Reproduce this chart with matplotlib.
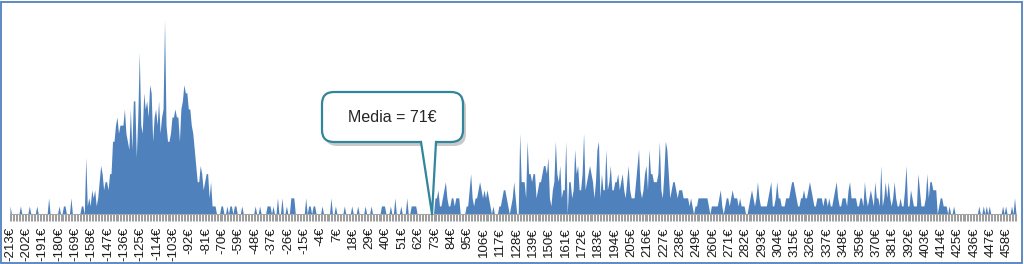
import matplotlib
matplotlib.use("Agg")
import matplotlib.pyplot as plt
from matplotlib.patches import FancyBboxPatch, Polygon, Rectangle
from matplotlib.lines import Line2D
from matplotlib.transforms import IdentityTransform

plt.rcParams["font.family"] = ["Liberation Sans Narrow", "Liberation Sans", "DejaVu Sans"]

# conteggi per ogni euro, da -213 a 464 (righe da 11 valori = un'etichetta)
counts_left = [
    1, 0, 0, 0, 0, 0, 0, 1, 0, 0, 0,
    0, 0, 1, 0, 0, 0, 0, 1, 0, 0, 0,
    0, 0, 0, 0, 2, 0, 0, 0, 0, 0, 0,
    1, 0, 0, 1, 1, 0, 0, 0, 2, 0, 0,
    0, 0, 0, 0, 1, 1, 0, 7, 1, 2, 1,
    3, 2, 3, 1, 2, 4, 6, 5, 3, 4, 4,
    3, 5, 5, 9, 9, 11, 12, 10, 11, 11, 11,
    13, 10, 9, 8, 13, 8, 14, 14, 7, 12, 20,
    11, 10, 15, 13, 14, 12, 16, 15, 9, 12, 13,
    11, 14, 10, 12, 13, 24, 11, 9, 9, 10, 12,
    12, 13, 12, 12, 9, 13, 14, 16, 15, 15, 13,
    13, 11, 10, 8, 6, 4, 4, 6, 5, 3, 4,
    5, 5, 2, 4, 1, 1, 1, 0, 0, 0, 1,
]
counts_mid = [
    1, 0, 0, 1, 0, 1, 1, 0, 1, 1, 0,
    0, 0, 1, 0, 0, 0, 0, 0, 0, 0, 0,
    1, 0, 0, 1, 0, 0, 0, 0, 1, 1, 1,
    0, 1, 0, 0, 2, 0, 0, 2, 0, 0, 1,
    0, 0, 2, 2, 2, 0, 0, 0, 0, 0, 0,
    0, 2, 0, 1, 1, 0, 1, 1, 0, 0, 0,
    0, 1, 0, 0, 0, 0, 0, 2, 0, 0, 1,
    0, 0, 0, 0, 0, 1, 0, 0, 0, 0, 1,
    0, 0, 0, 1, 0, 0, 0, 0, 1, 0, 0,
    0, 1, 0, 0, 0, 0, 0, 0, 1, 1, 1,
    0, 0, 0, 1, 0, 0, 2, 0, 0, 0, 1,
    0, 0, 0, 2, 0, 0, 1, 1, 1, 1, 0,
    0, 0, 0, 0, 0, 0, 0, 0, 0, 0, 0,
]
counts_right = [
    2, 2, 3, 1, 1, 2, 3, 4, 2, 1, 1,
    2, 2, 1, 2, 2, 2, 0, 0, 0, 0, 1,
    1, 3, 5, 2, 1, 2, 2, 3, 4, 3, 2,
    3, 2, 3, 2, 1, 0, 1, 0, 0, 0, 1,
    1, 2, 3, 3, 2, 1, 0, 1, 2, 4, 2,
    0, 0, 10, 4, 4, 4, 2, 9, 5, 5, 4,
    5, 5, 2, 3, 4, 4, 5, 6, 6, 5, 7,
    2, 1, 3, 4, 9, 5, 4, 6, 2, 3, 3,
    9, 0, 4, 4, 2, 3, 8, 5, 6, 3, 3,
    5, 10, 3, 4, 5, 6, 5, 4, 2, 4, 8,
    9, 2, 5, 3, 3, 8, 3, 4, 6, 3, 3,
    4, 4, 5, 3, 4, 5, 3, 2, 4, 6, 3,
    2, 2, 2, 4, 6, 8, 3, 2, 3, 5, 6,
    3, 8, 5, 5, 4, 4, 4, 5, 9, 3, 2,
    5, 9, 8, 5, 2, 3, 4, 4, 3, 2, 3,
    3, 3, 2, 2, 2, 2, 1, 2, 1, 0, 1,
    1, 2, 2, 2, 2, 2, 2, 2, 1, 0, 1,
    1, 1, 1, 1, 2, 3, 1, 0, 1, 2, 2,
    1, 2, 3, 2, 2, 2, 1, 2, 1, 1, 1,
    0, 0, 1, 2, 3, 2, 1, 2, 4, 2, 1,
]
counts_tail = [
    1, 1, 1, 1, 2, 3, 4, 1, 1, 2, 4,
    2, 2, 1, 1, 1, 2, 2, 2, 3, 4, 4,
    3, 2, 1, 1, 2, 2, 3, 2, 2, 3, 4,
    3, 2, 1, 1, 2, 2, 2, 2, 1, 2, 2,
    1, 2, 1, 1, 2, 3, 4, 2, 1, 1, 2,
    2, 2, 1, 3, 4, 2, 2, 2, 2, 1, 1,
    2, 2, 1, 4, 2, 1, 2, 3, 2, 1, 4,
    2, 2, 1, 6, 1, 2, 4, 2, 4, 2, 1,
    2, 4, 2, 1, 1, 2, 1, 1, 3, 6, 1,
    1, 3, 2, 1, 1, 1, 5, 3, 1, 1, 1,
    2, 5, 2, 4, 4, 3, 3, 3, 0, 1, 2,
    2, 1, 1, 1, 0, 1, 0, 0, 1, 0, 0,
    0, 0, 0, 0, 0, 0, 0, 0, 0, 0, 0,
    0, 0, 0, 1, 0, 0, 1, 0, 1, 0, 1,
    0, 0, 0, 0, 0, 0, 0, 0, 1, 0, 1,
    0, 0, 0, 1, 0, 2, 0,
]
counts = counts_left + counts_mid + counts_right + counts_tail
euros = list(range(-213, -213 + len(counts)))
label_values = list(range(-213, 465, 11))
media = 71

fig = plt.figure(figsize=(10.24, 2.64), dpi=100)
ax = fig.add_axes([10 / 1024, 50 / 264, 1006 / 1024, 202 / 264])
ax.fill_between(euros, counts, color="#4F81BD", lw=0)
ax.set_xlim(euros[0], euros[-1])
ax.set_ylim(0, 25)
ax.set_yticks([])
for s in ["top", "left", "right"]:
    ax.spines[s].set_visible(False)
ax.spines["bottom"].set_color("#A6A6A6")

ax.set_xticks(label_values)
ax.set_xticklabels([f"{v}€" for v in label_values])
ax.set_xticks(euros, minor=True)
ax.tick_params(axis="x", which="both", length=5, width=0.6, color="#8C8C8C")
ax.tick_params(axis="x", which="major", labelsize=9.5, labelrotation=90, pad=4.5,
               labelcolor="#1A1A1A")

# cornice
fig.add_artist(Rectangle((1, 1), 1021, 261, transform=IdentityTransform(),
                         fill=False, edgecolor="#4F81BD", lw=1.3))

# fumetto "Media"
tip = ax.transData.transform((media, 0))
bx0, by0, bw, bh = 322, 122, 141, 50
teal = "#31859C"
fig.add_artist(FancyBboxPatch((bx0 + 3, by0 - 4), bw, bh,
                              boxstyle="round,pad=0,rounding_size=12",
                              transform=IdentityTransform(), facecolor="#A6A6A6",
                              edgecolor="none", alpha=0.6, zorder=5))
fig.add_artist(FancyBboxPatch((bx0, by0), bw, bh,
                              boxstyle="round,pad=0,rounding_size=12",
                              transform=IdentityTransform(), facecolor="white",
                              edgecolor=teal, lw=1.6, zorder=6))
fig.add_artist(Polygon([(421, by0 + 2), (tip[0], tip[1]), (436, by0 + 2)],
                       closed=True, transform=IdentityTransform(),
                       facecolor="white", edgecolor="none", zorder=7))
fig.add_artist(Line2D([421, tip[0], 436], [by0, tip[1], by0],
                      transform=IdentityTransform(), color=teal, lw=1.6, zorder=8))
fig.text((bx0 + bw / 2) / 1024, (by0 + bh / 2) / 264, f"Media = {media}€",
         ha="center", va="center", fontsize=11.5, color="#262626", zorder=9)

fig.savefig("out.png", dpi=100)
